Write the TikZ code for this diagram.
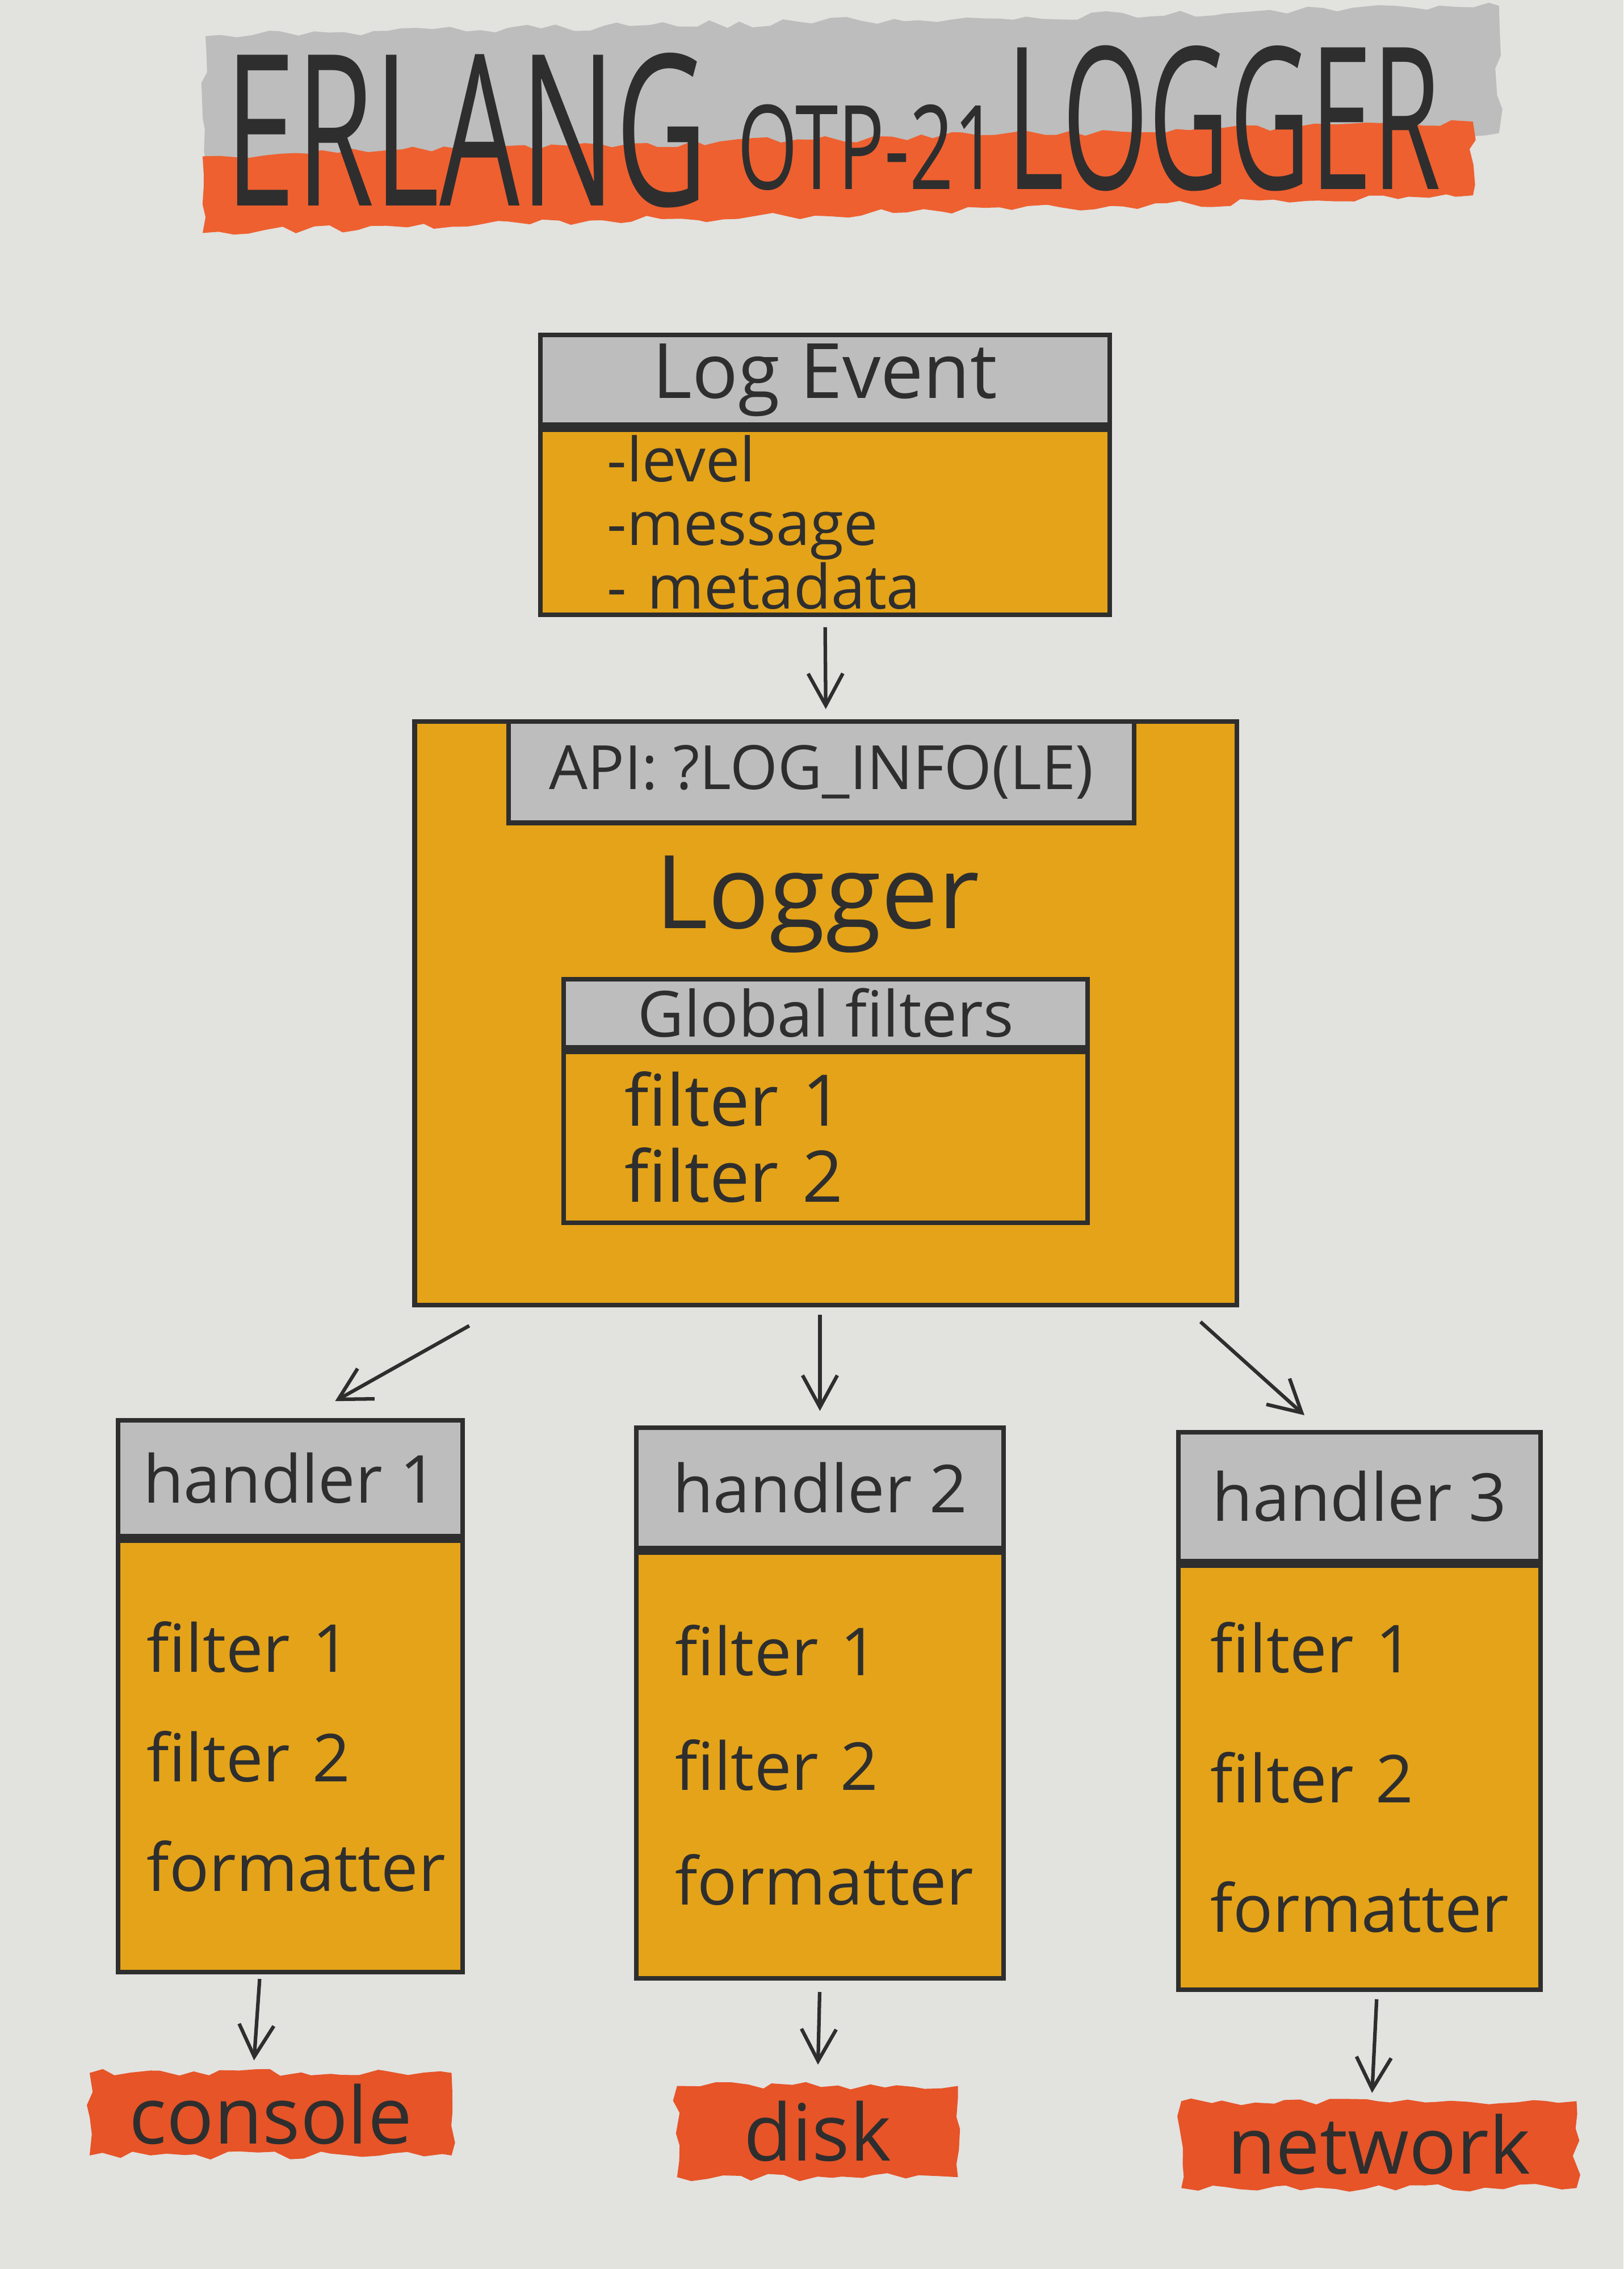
\documentclass[tikz,border=0pt]{standalone}
\usepackage{fontspec}
\setmainfont{Open Sans}
\newfontfamily\erlangfont[FakeStretch=0.6]{Open Sans}
\newfontfamily\otpfont[FakeStretch=0.66]{Open Sans}
\newfontfamily\loggerfont[FakeStretch=0.56]{Open Sans}
\usepackage{xcolor}
\usetikzlibrary{calc,arrows.meta,positioning,decorations.pathmorphing}
\definecolor{paper}{RGB}{226,226,223}
\definecolor{capgray}{RGB}{188,189,188}
\definecolor{markerYellow}{RGB}{228,163,24}
\definecolor{markerOrange}{RGB}{238,96,48}
\definecolor{markerRed}{RGB}{230,84,40}
\definecolor{inkgray}{RGB}{46,46,46}
\tikzset{
  rough/.style={decorate, decoration={random steps, segment length=3pt, amplitude=.8pt}},
  capbox/.style={draw=inkgray, line width=0.9pt, fill=capgray, text=inkgray,
    anchor=north west, inner sep=0pt},
  fillbox/.style={draw=inkgray, line width=0.9pt, fill=markerYellow, text=inkgray,
    anchor=north west, inner sep=0pt},
  handlerhead/.style={capbox, font=\fontsize{13}{13}\selectfont},
  handlerbody/.style={fillbox, align=left},
  sinkbox/.style={fill=markerRed, text=inkgray, inner sep=0pt,
    font=\fontsize{15.5}{15.5}\selectfont, rough},
  titleword/.style={text=inkgray, inner sep=0pt, anchor=base west},
  flowarrow/.style={draw=inkgray, line width=0.7pt, -{Straight Barb[length=2.2mm,width=2.4mm]}},
}
\pgfmathsetseed{7}

\begin{document}
\begin{tikzpicture}[x=0.01cm,y=-0.01cm]
    \useasboundingbox (0,0) rectangle (1122,1568);
    \fill[paper] (0,0) rectangle (1122,1568);

    % title: two marker bands behind the words
    \fill[capgray, rough] (142,25) -- (1036,4) -- (1036,92) -- (142,112) -- cycle;
    \fill[markerOrange, rough] (140,108) -- (1018,84) -- (1018,135) -- (140,161) -- cycle;
    \node[titleword, font=\erlangfont\fontsize{41.5}{41.5}\selectfont] (erlang) at (155,142) {ERLANG};
    \node[titleword, font=\otpfont\fontsize{23}{23}\selectfont] (otp) at (509,131) {OTP-21};
    \node[titleword, font=\loggerfont\fontsize{39}{39}\selectfont] (loggerword) at (695,131) {LOGGER};

    % log event
    \node[capbox, minimum width=3.93cm, minimum height=.62cm, font=\fontsize{15}{15}\selectfont] (evhead) at (372,230) {Log Event};
    \node[fillbox, minimum width=3.93cm, minimum height=1.28cm, text width=3.01cm, inner xsep=.46cm,
        align=left, font=\fontsize{12}{12.5}\selectfont] (evbody) at (evhead.south west) {-level\\-message\\- metadata};

    % logger with api tab and global filters
    \node[fillbox, minimum width=5.68cm, minimum height=4.03cm] (logger) at (285,497) {};
    \node[capbox, minimum width=4.32cm, minimum height=.70cm, font=\fontsize{12}{12}\selectfont] (api) at (350,497) {API: ?LOG\_INFO(LE)};
    \node[text=inkgray, font=\fontsize{20}{20}\selectfont] (loggername) at (565,625) {Logger};
    \node[capbox, minimum width=3.62cm, minimum height=.47cm, font=\fontsize{12.5}{12.5}\selectfont] (gfhead) at (388,675) {Global filters};
    \node[fillbox, minimum width=3.62cm, minimum height=1.18cm, text width=2.78cm, inner xsep=.42cm,
        align=left, font=\fontsize{14}{15}\selectfont] (gfbody) at (gfhead.south west) {filter 1\\filter 2};

    % handlers
    \node[handlerhead, minimum width=2.38cm, minimum height=.80cm] (h1head) at (80,980) {handler 1};
    \node[handlerbody, minimum width=2.38cm, minimum height=2.98cm, text width=1.98cm, inner xsep=.20cm,
        font=\fontsize{13}{21.5}\selectfont] (h1body) at (h1head.south west) {filter 1\\filter 2\\formatter};
    \node[handlerhead, minimum width=2.54cm, minimum height=.83cm] (h2head) at (438,985) {handler 2};
    \node[handlerbody, minimum width=2.54cm, minimum height=2.94cm, text width=2.00cm, inner xsep=.27cm,
        font=\fontsize{13}{22.5}\selectfont] (h2body) at (h2head.south west) {filter 1\\filter 2\\formatter};
    \node[handlerhead, minimum width=2.50cm, minimum height=.89cm] (h3head) at (813,988) {handler 3};
    \node[handlerbody, minimum width=2.50cm, minimum height=2.93cm, text width=2.06cm, inner xsep=.22cm,
        font=\fontsize{13}{25.5}\selectfont] (h3body) at (h3head.south west) {filter 1\\filter 2\\formatter};

    % outputs
    \node[sinkbox, minimum width=2.50cm, minimum height=.57cm] (console) at (187,1461) {console};
    \node[sinkbox, minimum width=1.94cm, minimum height=.63cm] (disk) at (565,1473) {disk};
    \node[sinkbox, minimum width=2.73cm, minimum height=.60cm] (network) at (953,1482) {network};

    % arrows
    \draw[flowarrow, shorten <=.07cm, shorten >=.07cm] (evbody.south) -- (logger.north);
    \draw[flowarrow, shorten <=.26cm, shorten >=.24cm] ($(logger.south west)+(62,0)$) -- ($(h1head.north)+(10,0)$);
    \draw[flowarrow, shorten <=.05cm, shorten >=.10cm] (h2head.north |- logger.south) -- (h2head.north);
    \draw[flowarrow, shorten <=.15cm, shorten >=.15cm] ($(logger.south east)+(-38,0)$) -- ($(h3head.north)+(-27,0)$);
    \draw[flowarrow, shorten <=.03cm, shorten >=.08cm] ($(h1body.south)+(-21,0)$) -- ($(console.north)+(-12,0)$);
    \draw[flowarrow, shorten <=.08cm, shorten >=.14cm] (h2body.south) -- (disk.north);
    \draw[flowarrow, shorten <=.05cm, shorten >=.05cm] ($(h3body.south)+(12,0)$) -- ($(network.north)+(-5,0)$);
\end{tikzpicture}
\end{document}
